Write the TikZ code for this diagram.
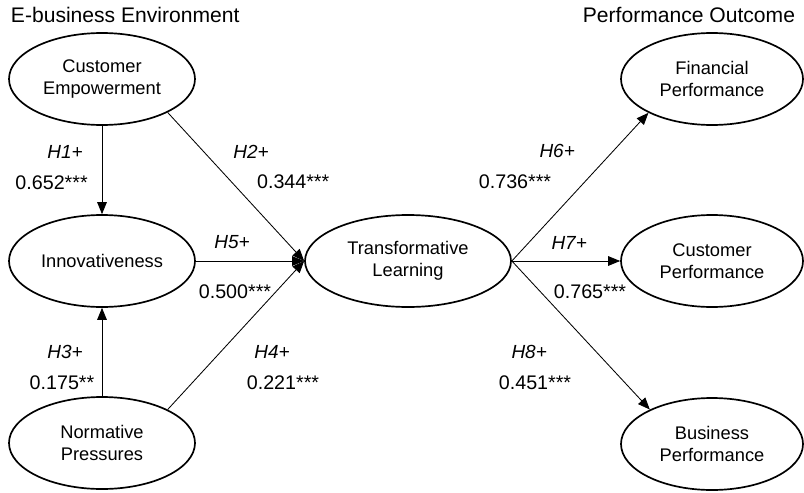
\documentclass[tikz,border=0pt]{standalone}
\usepackage{fontspec}
\setmainfont{Liberation Sans}
\usetikzlibrary{shapes.geometric,arrows.meta}

\begin{document}
\begin{tikzpicture}[
        construct/.style={draw, ellipse, line width=1.2pt, inner sep=0pt,
            minimum width=4.65cm, minimum height=2.3cm, align=center,
            font=\fontsize{13}{15.6}\selectfont},
        path/.style={line width=0.6pt, -{Triangle[length=3mm,width=2.4mm]}},
        hyp/.style={font=\fontsize{13.5}{16}\selectfont\itshape},
        coef/.style={font=\fontsize{14}{16}\selectfont},
        group/.style={font=\fontsize{15}{18}\selectfont}
    ]
        \useasboundingbox (0,0) rectangle (20.1,-12.3);

        % group titles
        \node[group, anchor=west] (envtitle) at (0.15,-0.38) {E-business Environment};
        \node[group, anchor=east] (outtitle) at (20.0,-0.38) {Performance Outcome};

        % constructs
        \node[construct] (ce) at (2.55,-1.975) {Customer\\Empowerment};
        \node[construct] (inn) at (2.55,-6.525) {Innovativeness};
        \node[construct] (np) at (2.55,-11.075) {Normative\\Pressures};
        \node[construct, minimum width=5.15cm] (tl) at (10.2,-6.525) {Transformative\\Learning};
        \node[construct, minimum width=4.55cm] (fp) at (17.8,-1.975) {Financial\\Performance};
        \node[construct, minimum width=4.55cm] (cp) at (17.8,-6.525) {Customer\\Performance};
        \node[construct, minimum width=4.55cm] (bp) at (17.8,-11.1) {Business\\Performance};

        % paths
        \draw[path] (ce.south) -- (inn.north);
        \draw[path] (np.north) -- (inn.south);
        \draw[path] (ce.-27) -- (tl.west);
        \draw[path] (inn.east) -- (tl.west);
        \draw[path] (np.27) -- (tl.west);
        \draw[path] (tl.east) -- (fp.208);
        \draw[path] (tl.east) -- (cp.west);
        \draw[path] (tl.east) -- (bp.151);

        % hypotheses and coefficients
        \node[hyp] (h1) at (1.625,-3.8) {H1+};
        \node[coef] (c1) at (1.29,-4.575) {0.652***};
        \node[hyp] (h2) at (6.275,-3.8) {H2+};
        \node[coef] (c2) at (7.33,-4.55) {0.344***};
        \node[hyp] (h3) at (1.625,-8.8) {H3+};
        \node[coef] (c3) at (1.55,-9.575) {0.175**};
        \node[hyp] (h4) at (6.8,-8.8) {H4+};
        \node[coef] (c4) at (7.075,-9.575) {0.221***};
        \node[hyp] (h5) at (5.8,-6.05) {H5+};
        \node[coef] (c5) at (5.875,-7.3) {0.500***};
        \node[hyp] (h6) at (13.93,-3.775) {H6+};
        \node[coef] (c6) at (12.875,-4.55) {0.736***};
        \node[hyp] (h7) at (14.23,-6.075) {H7+};
        \node[coef] (c7) at (14.75,-7.3) {0.765***};
        \node[hyp] (h8) at (13.23,-8.8) {H8+};
        \node[coef] (c8) at (13.375,-9.575) {0.451***};
    \end{tikzpicture}
\end{document}
